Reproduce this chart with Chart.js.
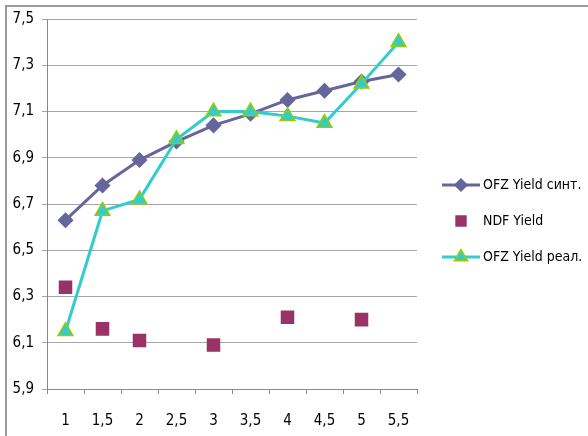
<!DOCTYPE html>
<html>
<head>
<meta charset="utf-8">
<script src="https://cdn.jsdelivr.net/npm/chart.js@4/dist/chart.umd.min.js"></script>
<style>
  html, body { margin: 0; padding: 0; background: #fff; }
  #wrap { position: relative; width: 588px; height: 436px; }
  #frame { position: absolute; left: 5px; top: 5px; right: 0; bottom: 0;
           border-top: 2px solid #9a9a9a; border-left: 2px solid #9a9a9a; pointer-events: none; }
  canvas { position: absolute; left: 0; top: 0; }
</style>
</head>
<body>
<div id="wrap">
  <canvas id="c" width="588" height="436"></canvas>
  <div id="frame"></div>
</div>
<script>
// Maturity buckets (years)
const maturities = ['1', '1,5', '2', '2,5', '3', '3,5', '4', '4,5', '5', '5,5'];
// Synthetic OFZ yield curve
const ofzSynth = [6.63, 6.78, 6.89, 6.97, 7.04, 7.09, 7.15, 7.19, 7.23, 7.26];
// NDF yields (only some tenors quoted)
const ndfYield = [6.34, 6.16, 6.11, null, 6.09, null, 6.21, null, 6.20, null];
// Actual OFZ yields
const ofzReal = [6.15, 6.67, 6.72, 6.98, 7.10, 7.10, 7.08, 7.05, 7.22, 7.40];
// Y axis range
const yMin = 5.9, yMax = 7.5, yStep = 0.2;

const FONT = '"Liberation Sans Narrow", "DejaVu Sans Condensed", "Liberation Sans", sans-serif';

const series = [
  { label: 'OFZ Yield синт.', data: ofzSynth, color: '#66669c', style: 'rectRot', radius: 7,
    fill: '#66669c', edge: '#66669c', line: true, order: 3 },
  { label: 'NDF Yield', data: ndfYield, color: '#993366', style: 'rect', radius: 8.5,
    fill: '#993366', edge: '#993366', line: false, order: 2 },
  { label: 'OFZ Yield реал.', data: ofzReal, color: '#33cccc', style: 'triangle', radius: 8.5,
    fill: '#33cccc', edge: '#99cc00', line: true, order: 1 }
];

// Legend drawn to the right of the plot: line + marker sample, then the label
const sideLegend = {
  id: 'sideLegend',
  afterDraw(chart) {
    const ctx = chart.ctx;
    const area = chart.chartArea;
    const x0 = area.right + 25, x1 = x0 + 38;
    const cy = chart.height / 2 + 3;
    const gap = 36;
    ctx.save();
    series.forEach((s, i) => {
      const y = cy + (i - 1) * gap;
      if (s.line) {
        ctx.strokeStyle = s.color;
        ctx.lineWidth = 3;
        ctx.beginPath();
        ctx.moveTo(x0, y);
        ctx.lineTo(x1, y);
        ctx.stroke();
      }
      ctx.fillStyle = s.fill;
      ctx.strokeStyle = s.edge;
      ctx.lineWidth = 1.5;
      Chart.helpers.drawPoint(ctx, { pointStyle: s.style, radius: s.style === 'rect' ? 7 : s.radius - 1, borderWidth: 1.5 }, (x0 + x1) / 2, y);
      ctx.fillStyle = '#000';
      ctx.font = '14px ' + FONT;
      ctx.textBaseline = 'middle';
      ctx.textAlign = 'left';
      ctx.fillText(s.label, x1 + 3, y);
    });
    ctx.restore();
  }
};

new Chart(document.getElementById('c'), {
  type: 'line',
  data: {
    labels: maturities,
    datasets: series.map(s => ({
      label: s.label,
      data: s.data,
      order: s.order,
      showLine: s.line,
      borderColor: s.color,
      borderWidth: 3,
      pointStyle: s.style,
      pointRadius: s.radius,
      pointBackgroundColor: s.fill,
      pointBorderColor: s.edge,
      pointBorderWidth: 1.5,
      spanGaps: false,
      tension: 0
    }))
  },
  options: {
    responsive: false,
    animation: false,
    events: [],
    layout: { padding: { left: 0, top: 19, right: 171, bottom: 0 } },
    plugins: { legend: { display: false }, tooltip: { enabled: false } },
    scales: {
      x: {
        offset: true,
        grid: { display: true, drawOnChartArea: false, drawTicks: true, tickLength: 5, offset: true, color: '#8a8a8a' },
        border: { color: '#8a8a8a', width: 1 },
        ticks: { color: '#000', font: { family: FONT, size: 15 }, padding: 18, maxRotation: 0, autoSkip: false },
        afterFit(scale) { scale.height = 47; }
      },
      y: {
        min: yMin, max: yMax,
        grid: { color: '#a6a6a6', tickLength: 5, lineWidth: 1 },
        border: { color: '#8a8a8a', width: 1 },
        ticks: {
          stepSize: yStep,
          color: '#000',
          font: { family: FONT, size: 15 },
          padding: 8,
          callback: v => v.toFixed(1).replace('.', ',')
        },
        afterFit(scale) { scale.width = 47; }
      }
    }
  },
  plugins: [sideLegend]
});
</script>
</body>
</html>
